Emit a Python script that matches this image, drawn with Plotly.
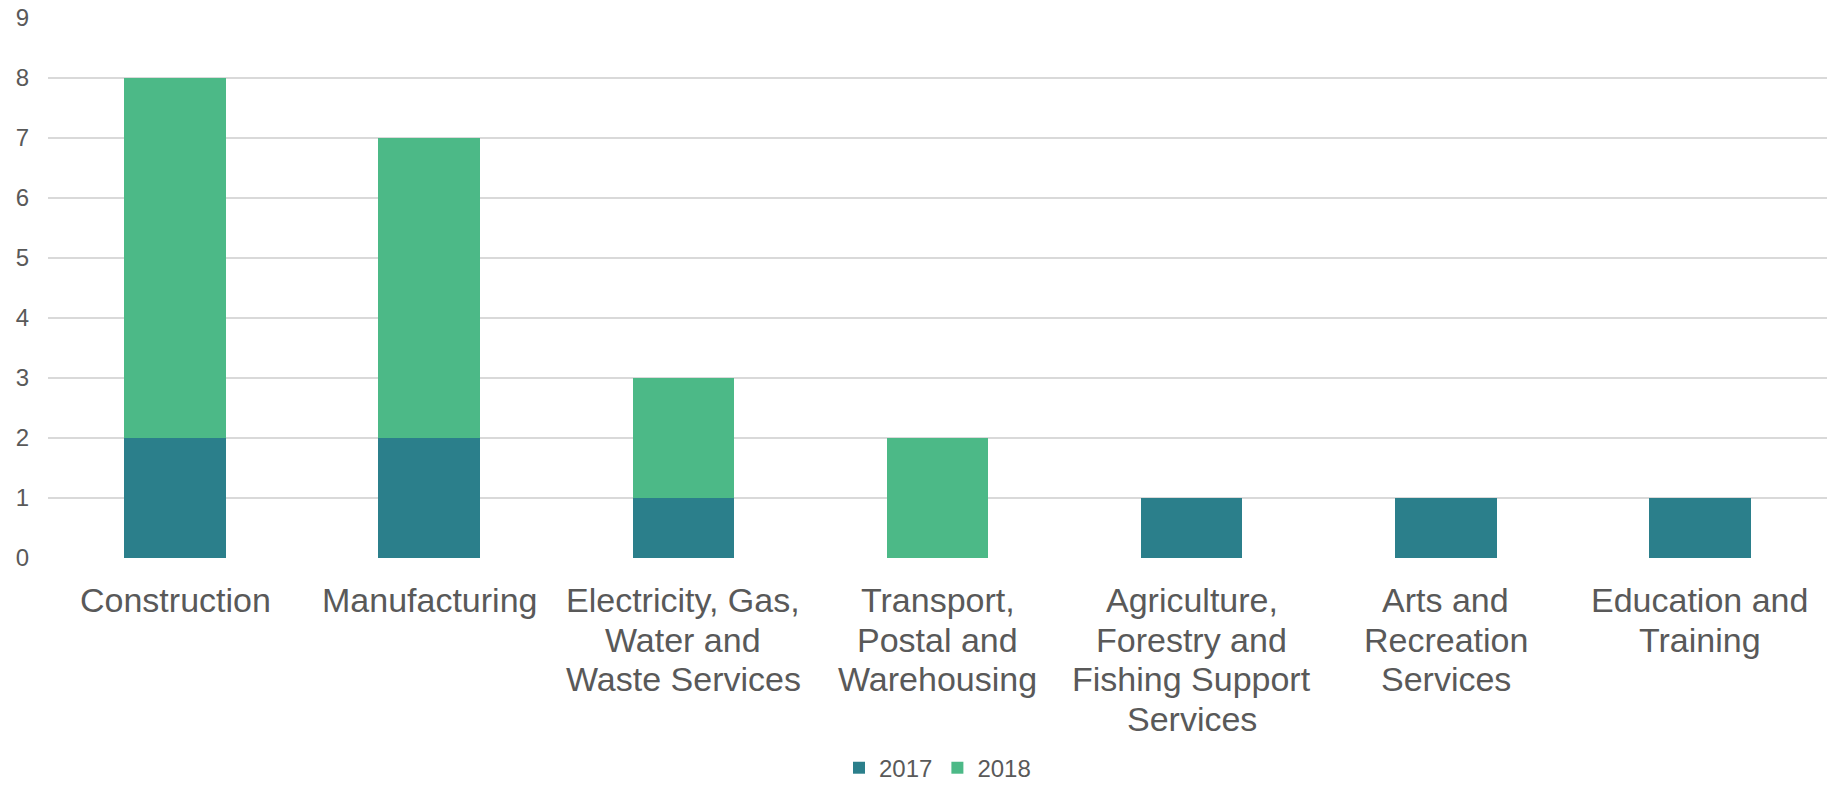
import plotly.graph_objects as go

# Industry categories (line breaks as shown under the axis)
categories = [
    "Construction",
    "Manufacturing",
    "Electricity, Gas,<br>Water and<br>Waste Services",
    "Transport,<br>Postal and<br>Warehousing",
    "Agriculture,<br>Forestry and<br>Fishing Support<br>Services",
    "Arts and<br>Recreation<br>Services",
    "Education and<br>Training",
]
values_2017 = [2, 2, 1, 0, 1, 1, 1]
values_2018 = [6, 5, 2, 2, 0, 0, 0]
y_ticks = [0, 1, 2, 3, 4, 5, 6, 7, 8, 9]

FONT = "Liberation Sans, Arial, sans-serif"
GREY = "#595959"

fig = go.Figure()
fig.add_trace(go.Bar(x=categories, y=values_2017, name="2017",
                     marker=dict(color="#2B7F8B", line=dict(width=0))))
fig.add_trace(go.Bar(x=categories, y=values_2018, name="2018",
                     marker=dict(color="#4CB987", line=dict(width=0))))

# Category labels, one annotation per text line for tight line spacing
line_gap = 39.6
for cat in categories:
    for i, line in enumerate(cat.split("<br>")):
        fig.add_annotation(
            x=cat, xref="x", y=0, yref="paper",
            text=line, showarrow=False,
            xanchor="center", yanchor="middle",
            yshift=-(42 + line_gap * i),
            font=dict(family=FONT, size=34, color=GREY),
        )

fig.update_layout(
    width=1835, height=787,
    barmode="stack", bargap=0.6,
    plot_bgcolor="white", paper_bgcolor="white",
    margin=dict(l=48, r=8, t=17.5, b=229, autoexpand=False),
    font=dict(family=FONT, color=GREY),
    legend=dict(
        orientation="h", x=0.5, xanchor="center",
        yref="container", y=0.024, yanchor="middle",
        font=dict(family=FONT, size=24, color=GREY),
        itemwidth=30, traceorder="normal",
    ),
    xaxis=dict(showticklabels=False, showgrid=False, zeroline=False,
               showline=False, fixedrange=True),
    yaxis=dict(range=[0, 9], tickvals=y_ticks, showgrid=True,
               gridcolor="#D9D9D9", gridwidth=1.5, zeroline=False,
               showline=False, ticklabelstandoff=18,
               tickfont=dict(family=FONT, size=24, color=GREY)),
)

fig.write_html("out.html")
